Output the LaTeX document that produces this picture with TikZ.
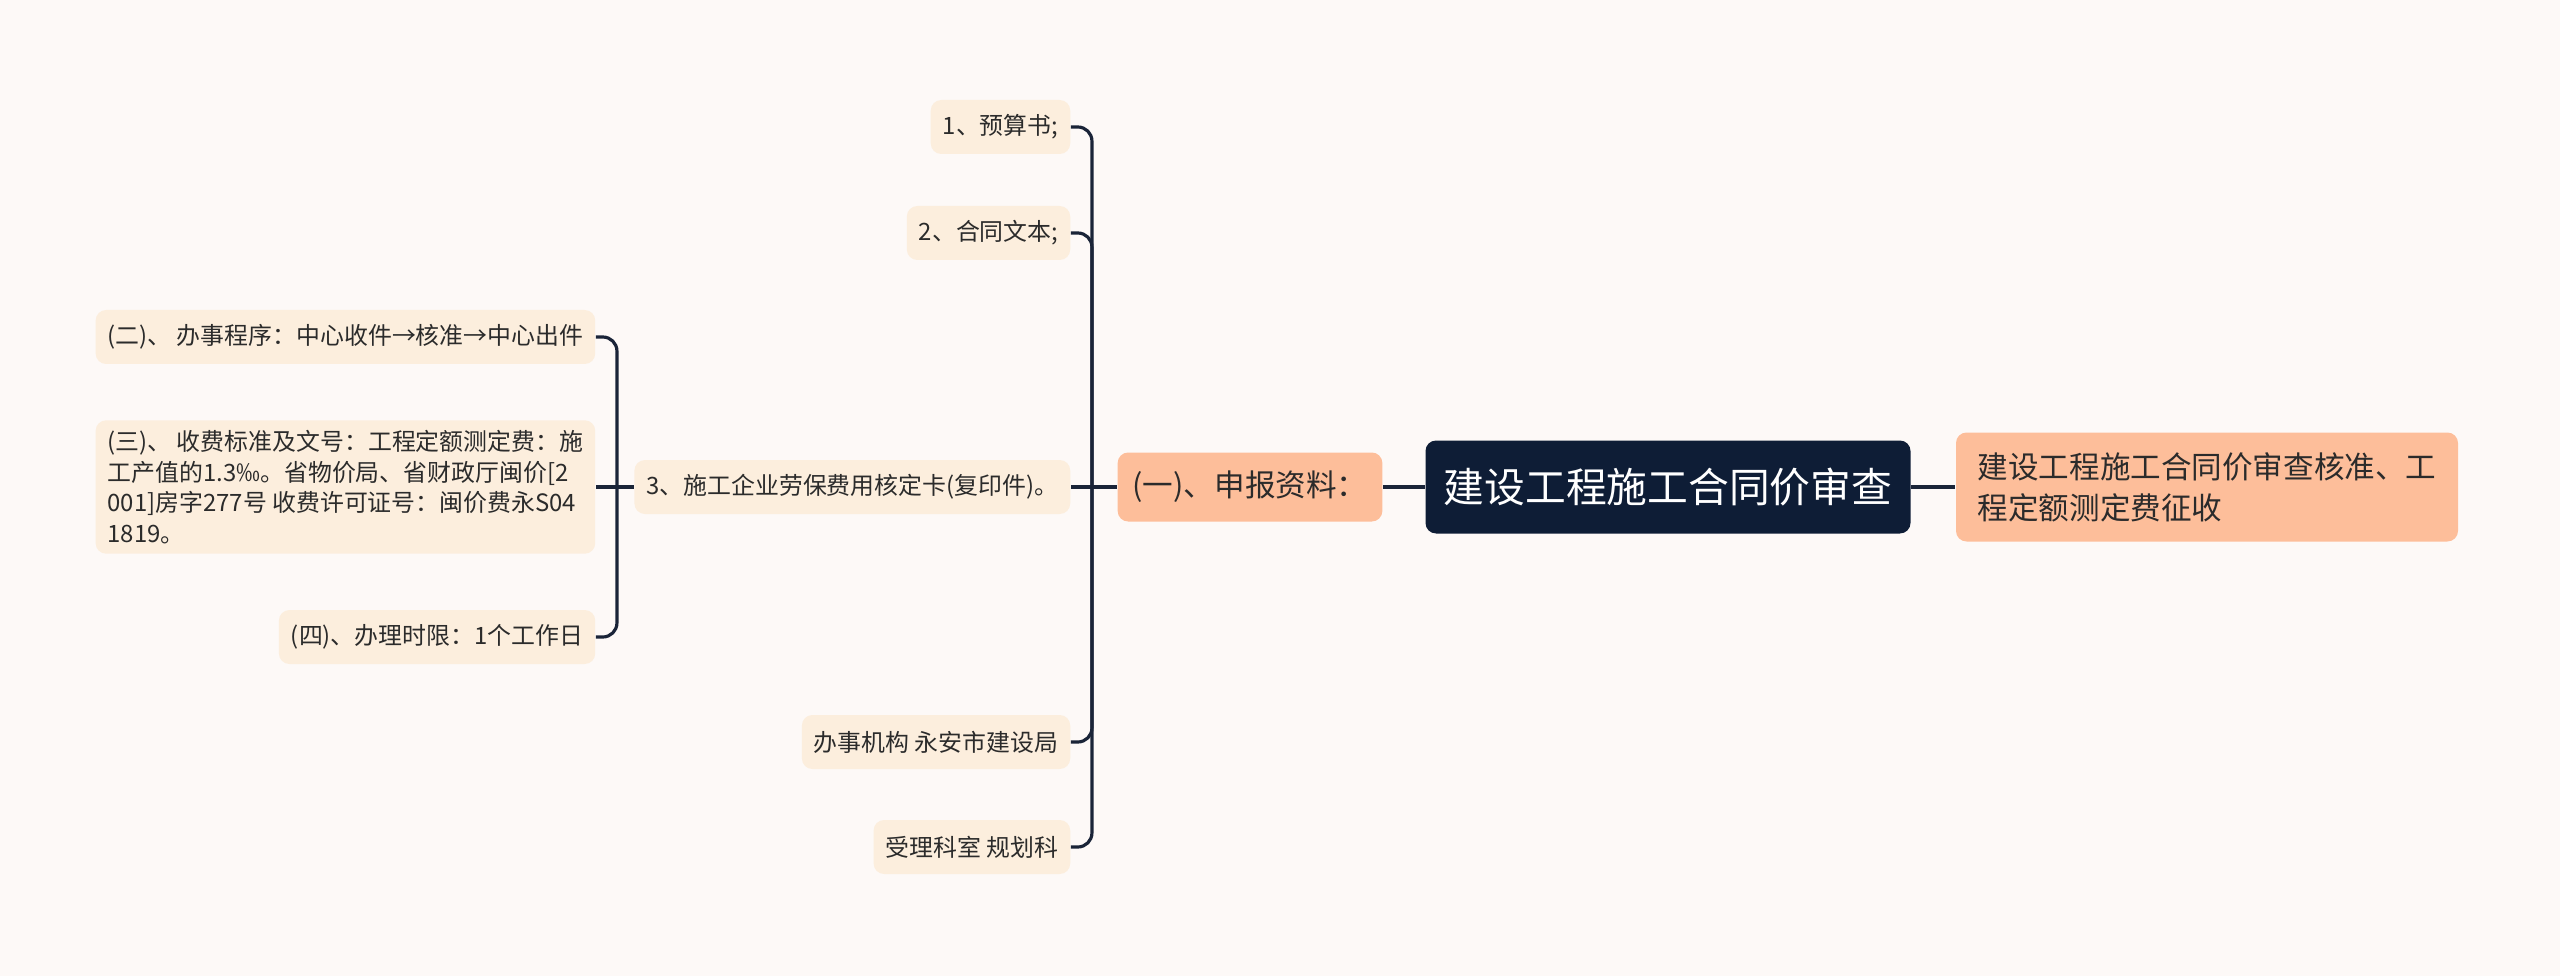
\documentclass[tikz,border=0pt]{standalone}
\usepackage{fontspec}
\setmainfont{Noto Sans CJK SC}
\usetikzlibrary{positioning, calc}
\definecolor{bgcol}{HTML}{FDF9F7}
\definecolor{navy}{HTML}{0E1D36}
\definecolor{salmon}{HTML}{FDBE9A}
\definecolor{peach}{HTML}{FCEEDD}
\definecolor{linkcol}{HTML}{1A2438}
\definecolor{txtcol}{HTML}{2B2B2B}
\tikzset{
    root/.style={fill=navy, text=white, rounded corners=3pt, minimum width=4.85cm, minimum height=0.93cm,
        font=\fontsize{11.6}{14}\selectfont},
    topic/.style={fill=salmon, text=txtcol, rounded corners=3pt, inner xsep=0.15cm,
        font=\fontsize{8.7}{11.6}\selectfont},
    leaf/.style={fill=peach, text=txtcol, rounded corners=3pt, minimum height=0.54cm, inner xsep=0.12cm,
        font=\fontsize{6.8}{8.7}\selectfont},
    link/.style={draw=linkcol, line width=0.9pt, rounded corners=4pt},
}

\begin{document}
\begin{tikzpicture}

    \fill[bgcol] (0,0) rectangle (25.6,-9.76);
    \useasboundingbox (0,0) rectangle (25.6,-9.76);

    \node[root] (review) at (16.68, -4.87) {建设工程施工合同价审查};
    \node[topic, minimum width=5.02cm, minimum height=1.09cm, align=left] (approval) at ($(review)+(5.39, 0)$)
        {建设工程施工合同价审查核准、工\\程定额测定费征收};
    \node[topic, minimum width=2.61cm, minimum height=0.69cm] (apply) at ($(review)+(-4.18, 0)$) {(一)、申报资料：};

    \draw[link] (review.east) -- (approval.west);
    \draw[link] (review.west) -- (apply.east);

    % materials to hand in
    \coordinate (apply_fork) at ($(apply.west)+(-0.25, 0)$);
    \node[leaf, anchor=east] (budget) at ($(apply_fork)+(-0.21, 3.6)$) {1、预算书;};
    \node[leaf, anchor=east] (contract) at ($(apply_fork)+(-0.21, 2.54)$) {2、合同文本;};
    \node[leaf, anchor=east] (card) at ($(apply_fork)+(-0.21, 0)$) {3、施工企业劳保费用核定卡(复印件)。};
    \node[leaf, anchor=east] (office) at ($(apply_fork)+(-0.21, -2.55)$) {办事机构 永安市建设局};
    \node[leaf, anchor=east] (section) at ($(apply_fork)+(-0.21, -3.6)$) {受理科室 规划科};

    \draw[link] (apply.west) -- (card.east);
    \foreach \item in {budget, contract, office, section}
        \draw[link] (apply_fork) |- (\item.east);

    % procedure, fee and time limit
    \coordinate (card_fork) at ($(apply_fork)+(-4.75, 0)$);
    \node[leaf, anchor=east] (procedure) at ($(card_fork)+(-0.21, 1.5)$) {(二)、 办事程序：中心收件→核准→中心出件};
    \node[leaf, anchor=east, align=left, inner ysep=0.1cm, minimum width=4.97cm] (fee) at ($(card_fork)+(-0.21, 0)$)
        {(三)、 收费标准及文号：工程定额测定费：施\\工产值的1.3‰。省物价局、省财政厅闽价[2\\001]房字277号 收费许可证号：闽价费永S04\\1819。};
    \node[leaf, anchor=east] (limit) at ($(card_fork)+(-0.21, -1.5)$) {(四)、办理时限：1个工作日};

    \draw[link] (card.west) -- (fee.east);
    \foreach \item in {procedure, limit}
        \draw[link] (card_fork) |- (\item.east);

\end{tikzpicture}
\end{document}
